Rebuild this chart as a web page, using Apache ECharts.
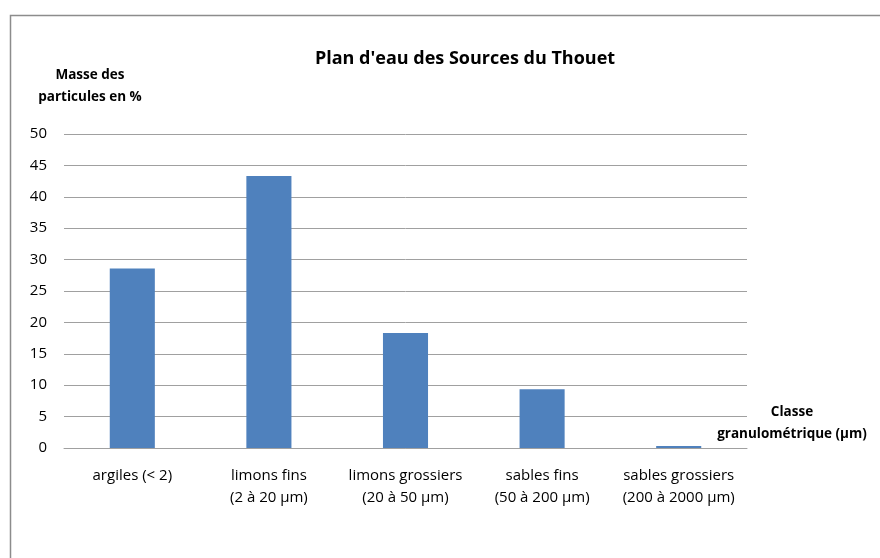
<!DOCTYPE html>
<html><head><meta charset="utf-8">
<script src="https://cdn.jsdelivr.net/npm/echarts@6/dist/echarts.min.js"></script>
<style>html,body{margin:0;padding:0;background:#fff}#c{width:880px;height:558px}</style>
</head><body><div id="c"></div>
<script>
const categories = ['argiles (< 2)', 'limons fins\n(2 à 20 µm)', 'limons grossiers\n(20 à 50 µm)', 'sables fins\n(50 à 200 µm)', 'sables grossiers\n(200 à 2000 µm)'];
const values = [28.6, 43.3, 18.3, 9.35, 0.3];
const titleText = "Plan d'eau des Sources du Thouet";
const yName = 'Masse des\nparticules en %';
const xName = 'Classe\ngranulométrique (µm)';
const FONT = '"Open Sans", sans-serif';
const chart = echarts.init(document.getElementById('c'), null, {renderer: 'canvas'});
chart.setOption({
  animation: false,
  backgroundColor: '#fff',
  title: {text: titleText, left: 460, top: 45, textAlign: 'center',
    textStyle: {fontFamily: FONT, fontWeight: 'bold', fontSize: 18, color: '#000'}},
  grid: {left: 64, right: 133, top: 134, bottom: 110},
  graphic: [
    {type: 'rect', shape: {x: 10.5, y: 15.5, width: 900, height: 600}, style: {fill: null, stroke: '#8c8c8c', lineWidth: 1.5}, silent: true},
    {type: 'text', style: {text: yName, x: 90, y: 64, textAlign: 'center', font: 'bold 13.5px ' + FONT, fill: '#000', lineHeight: 22}, silent: true},
    {type: 'text', style: {text: xName, x: 792, y: 401, textAlign: 'center', font: 'bold 13.5px ' + FONT, fill: '#000', lineHeight: 22}, silent: true}
  ],
  xAxis: {type: 'category', data: categories,
    axisLine: {lineStyle: {color: '#a0a0a0', width: 1}},
    axisTick: {show: false},
    axisLabel: {interval: 0, margin: 17, color: '#000', fontFamily: FONT, fontSize: 15, lineHeight: 22}},
  yAxis: {type: 'value', min: 0, max: 50, interval: 5,
    axisLine: {show: false}, axisTick: {show: false},
    axisLabel: {margin: 17, color: '#000', fontFamily: FONT, fontSize: 15},
    splitLine: {lineStyle: {color: '#a0a0a0', width: 1}}},
  series: [{type: 'bar', data: values, barWidth: '33%',
    itemStyle: {color: '#4f81bd'}}]
});
</script></body></html>
